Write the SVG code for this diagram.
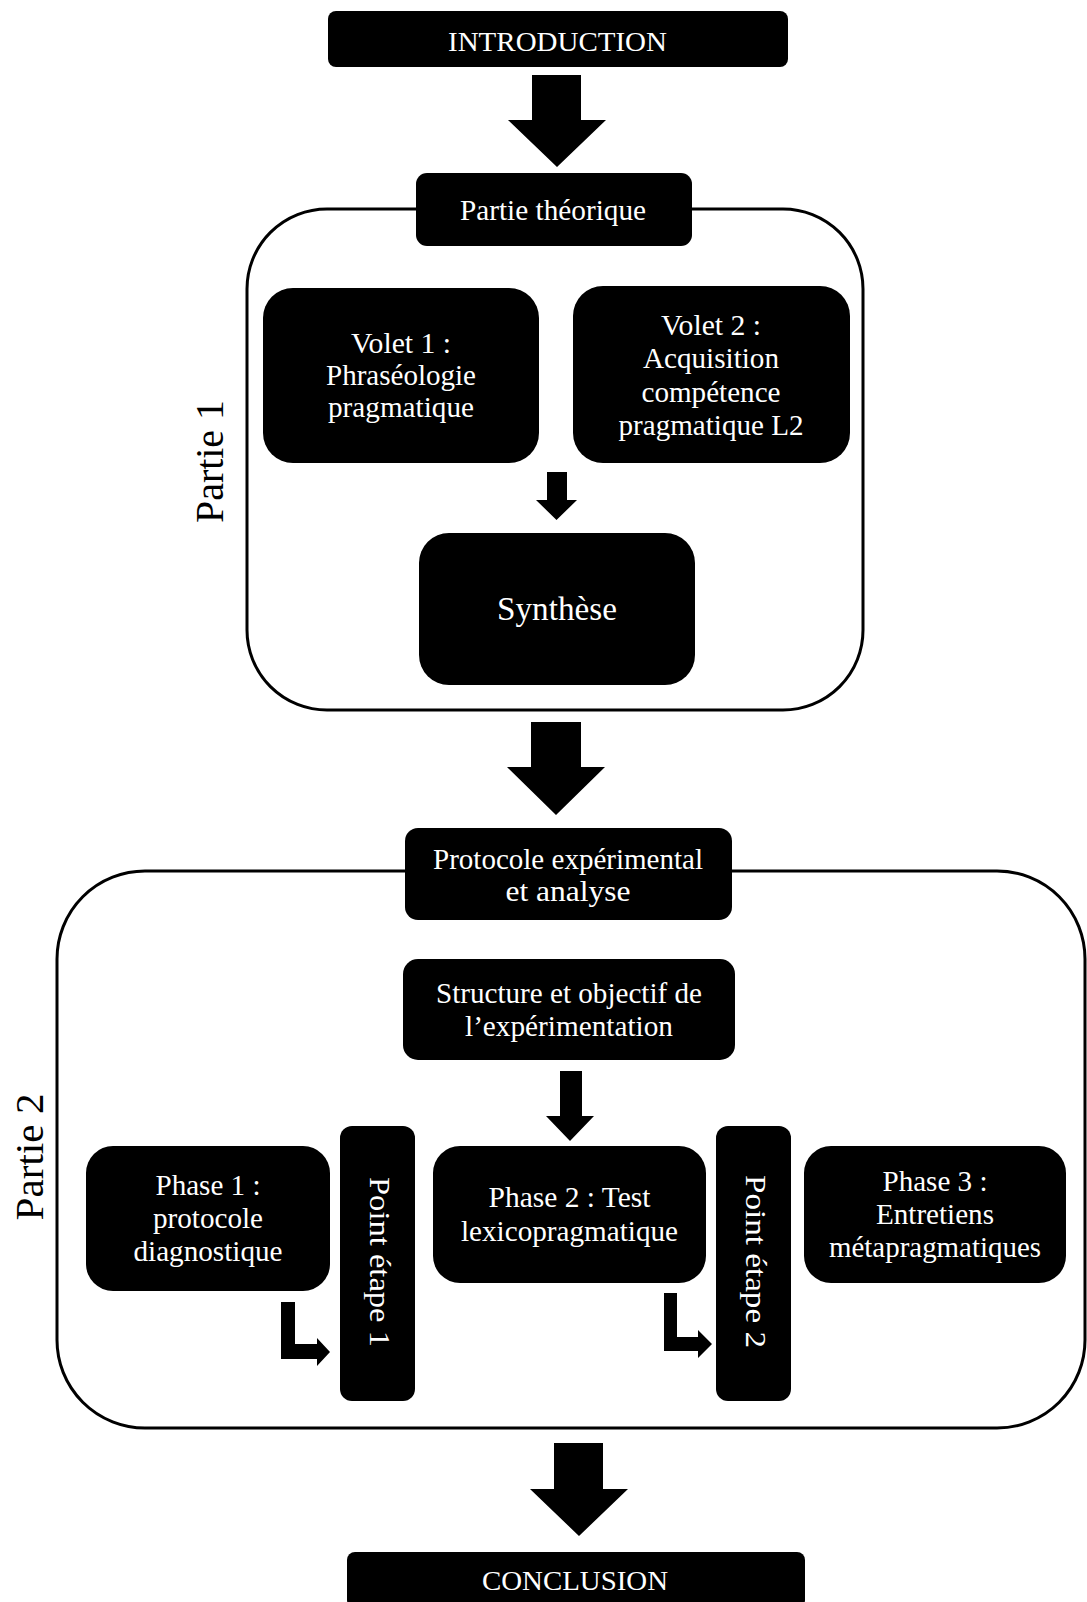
<svg xmlns="http://www.w3.org/2000/svg" width="1087" height="1602" viewBox="0 0 1087 1602">
<style>
.bg{fill:#ffffff}
.frame{fill:none;stroke:#000;stroke-width:3}
.box{fill:#000}
.arrow{fill:#000}
text{font-family:"Liberation Serif","Times New Roman",serif;fill:#fff;font-size:29px;text-anchor:middle}
.big{font-size:34px}
.cap{font-size:27px}
.side{fill:#000;font-size:41px}
.vert{font-size:30px}
</style>
<rect class="bg" x="0" y="0" width="1087" height="1602"/>

<g id="containers">
  <rect id="partie1-frame" class="frame" x="247" y="209" width="616" height="501" rx="80" ry="80"/>
  <rect id="partie2-frame" class="frame" x="57" y="871" width="1028" height="557" rx="88" ry="88"/>
</g>

<g id="connectors">
  <polygon class="arrow" points="532,75 581,75 581,120 606,120 557,167 508,120 532,120"/>
  <polygon class="arrow" points="547,472 567,472 567,500 577,500 556.5,520 536,500 547,500"/>
  <polygon class="arrow" points="531,722 581,722 581,767 605,767 556,815 507,767 531,767"/>
  <polygon class="arrow" points="560,1071 582,1071 582,1116 594,1116 570,1141 546,1116 560,1116"/>
  <polygon class="arrow" points="281,1302 295,1302 295,1344 317,1344 317,1338 330,1352 317,1366 317,1359 281,1359"/>
  <polygon class="arrow" points="664,1293 677,1293 677,1337 698,1337 698,1330 712,1344 698,1358 698,1351 664,1351"/>
  <polygon class="arrow" points="554,1443 603,1443 603,1489 628,1489 579,1536 530,1489 554,1489"/>
</g>

<g id="label-partie1">
  <text class="side" transform="translate(223,461.5) rotate(-90)" textLength="123" lengthAdjust="spacingAndGlyphs">Partie 1</text>
</g>
<g id="label-partie2">
  <text class="side" transform="translate(43,1157) rotate(-90)" textLength="127" lengthAdjust="spacingAndGlyphs">Partie 2</text>
</g>

<g id="introduction">
  <rect class="box" x="328" y="11" width="460" height="56" rx="8"/>
  <text class="cap" x="557.5" y="51" textLength="219" lengthAdjust="spacingAndGlyphs">INTRODUCTION</text>
</g>

<g id="partie-theorique">
  <rect class="box" x="416" y="173" width="276" height="73" rx="11"/>
  <text x="553" y="220" textLength="186" lengthAdjust="spacingAndGlyphs">Partie théorique</text>
</g>

<g id="volet1">
  <rect class="box" x="263" y="288" width="276" height="175" rx="30"/>
  <text x="401" y="353" textLength="100" lengthAdjust="spacingAndGlyphs">Volet 1 :</text>
  <text x="401" y="385" textLength="150" lengthAdjust="spacingAndGlyphs">Phraséologie</text>
  <text x="401" y="417" textLength="146" lengthAdjust="spacingAndGlyphs">pragmatique</text>
</g>

<g id="volet2">
  <rect class="box" x="573" y="286" width="277" height="177" rx="30"/>
  <text x="711" y="335" textLength="100" lengthAdjust="spacingAndGlyphs">Volet 2 :</text>
  <text x="711" y="368" textLength="136" lengthAdjust="spacingAndGlyphs">Acquisition</text>
  <text x="711" y="402" textLength="139" lengthAdjust="spacingAndGlyphs">compétence</text>
  <text x="711" y="435" textLength="185" lengthAdjust="spacingAndGlyphs">pragmatique L2</text>
</g>

<g id="synthese">
  <rect class="box" x="419" y="533" width="276" height="152" rx="30"/>
  <text class="big" x="557" y="620" textLength="120" lengthAdjust="spacingAndGlyphs">Synthèse</text>
</g>

<g id="protocole">
  <rect class="box" x="405" y="828" width="327" height="92" rx="13"/>
  <text x="568" y="869" textLength="270" lengthAdjust="spacingAndGlyphs">Protocole expérimental</text>
  <text x="568" y="901" textLength="125" lengthAdjust="spacingAndGlyphs">et analyse</text>
</g>

<g id="structure">
  <rect class="box" x="403" y="959" width="332" height="101" rx="15"/>
  <text x="569" y="1003" textLength="266" lengthAdjust="spacingAndGlyphs">Structure et objectif de</text>
  <text x="569" y="1036" textLength="208" lengthAdjust="spacingAndGlyphs">l’expérimentation</text>
</g>

<g id="phase1">
  <rect class="box" x="86" y="1146" width="244" height="145" rx="27"/>
  <text x="208" y="1195" textLength="105" lengthAdjust="spacingAndGlyphs">Phase 1 :</text>
  <text x="208" y="1228" textLength="110" lengthAdjust="spacingAndGlyphs">protocole</text>
  <text x="208" y="1261" textLength="149" lengthAdjust="spacingAndGlyphs">diagnostique</text>
</g>

<g id="point-etape1">
  <rect class="box" x="340" y="1126" width="75" height="275" rx="12"/>
  <text class="vert" transform="translate(377.5,1262) rotate(90)" y="7.5" textLength="170" lengthAdjust="spacingAndGlyphs">Point étape 1</text>
</g>

<g id="phase2">
  <rect class="box" x="433" y="1146" width="273" height="137" rx="27"/>
  <text x="569.5" y="1207" textLength="162" lengthAdjust="spacingAndGlyphs">Phase 2 : Test</text>
  <text x="569.5" y="1241" textLength="217" lengthAdjust="spacingAndGlyphs">lexicopragmatique</text>
</g>

<g id="point-etape2">
  <rect class="box" x="716" y="1126" width="75" height="275" rx="12"/>
  <text class="vert" transform="translate(753.5,1261.5) rotate(90)" y="7.5" textLength="173" lengthAdjust="spacingAndGlyphs">Point étape 2</text>
</g>

<g id="phase3">
  <rect class="box" x="804" y="1146" width="262" height="137" rx="27"/>
  <text x="935" y="1191" textLength="105" lengthAdjust="spacingAndGlyphs">Phase 3 :</text>
  <text x="935" y="1224" textLength="118" lengthAdjust="spacingAndGlyphs">Entretiens</text>
  <text x="935" y="1257" textLength="212" lengthAdjust="spacingAndGlyphs">métapragmatiques</text>
</g>

<g id="conclusion">
  <rect class="box" x="347" y="1552" width="458" height="56" rx="8"/>
  <text class="cap" x="575" y="1590" textLength="186" lengthAdjust="spacingAndGlyphs">CONCLUSION</text>
</g>
</svg>
